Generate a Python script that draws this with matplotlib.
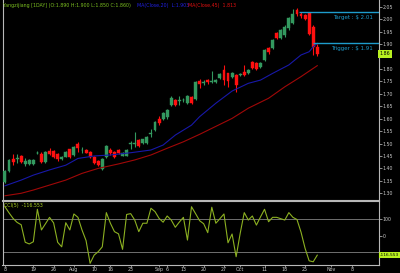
import matplotlib
matplotlib.use("Agg")
import matplotlib.pyplot as plt
from matplotlib import font_manager

# ---------------- data ----------------
opens  = [1.345,1.389,1.438,1.436,1.448,1.419,1.418,1.418,1.460,1.456,1.425,1.469,1.469,1.458,1.437,1.447,1.477,1.454,1.497,1.472,
          1.474,1.467,1.447,1.430,1.399,1.445,1.476,1.466,1.476,1.451,1.451,1.497,1.497,1.514,1.503,1.503,1.538,1.554,1.597,1.597,
          1.605,1.655,1.675,1.671,1.673,1.664,1.686,1.678,1.752,1.743,1.756,1.747,1.746,1.765,1.796,1.782,1.769,1.775,1.776,1.789,
          1.782,1.827,1.823,1.809,1.835,1.886,1.884,1.945,1.926,1.938,1.963,1.985,2.035,2.022,2.017,2.025,1.970,1.890]
highs  = [1.392,1.437,1.458,1.459,1.452,1.440,1.437,1.437,1.468,1.466,1.470,1.484,1.475,1.462,1.449,1.470,1.480,1.490,1.507,1.485,
          1.478,1.470,1.450,1.435,1.440,1.495,1.482,1.470,1.480,1.466,1.478,1.510,1.547,1.520,1.520,1.530,1.557,1.592,1.610,1.628,
          1.640,1.690,1.680,1.690,1.685,1.695,1.690,1.752,1.760,1.755,1.760,1.790,1.760,1.782,1.815,1.785,1.786,1.780,1.785,1.816,
          1.800,1.832,1.828,1.828,1.880,1.890,1.922,1.950,1.960,1.975,2.008,2.040,2.046,2.028,2.022,2.028,1.975,1.900]
lows   = [1.343,1.385,1.415,1.420,1.420,1.410,1.415,1.415,1.456,1.420,1.420,1.452,1.440,1.430,1.434,1.445,1.443,1.450,1.467,1.462,
          1.460,1.440,1.418,1.410,1.395,1.440,1.455,1.440,1.458,1.448,1.448,1.480,1.485,1.486,1.500,1.500,1.525,1.550,1.575,1.594,
          1.600,1.650,1.650,1.655,1.665,1.660,1.660,1.675,1.725,1.735,1.740,1.742,1.742,1.760,1.735,1.728,1.765,1.706,1.770,1.770,
          1.778,1.800,1.796,1.805,1.830,1.860,1.880,1.920,1.920,1.930,1.958,1.980,2.012,2.005,1.995,1.935,1.856,1.850]
closes = [1.389,1.435,1.425,1.441,1.425,1.429,1.435,1.435,1.463,1.424,1.466,1.456,1.446,1.436,1.447,1.467,1.445,1.487,1.483,1.476,
          1.463,1.447,1.423,1.414,1.437,1.490,1.463,1.445,1.463,1.463,1.474,1.502,1.503,1.490,1.517,1.525,1.542,1.588,1.581,1.624,
          1.635,1.682,1.655,1.674,1.676,1.691,1.664,1.749,1.738,1.748,1.746,1.751,1.756,1.778,1.756,1.751,1.782,1.735,1.781,1.775,
          1.795,1.803,1.800,1.823,1.876,1.866,1.918,1.925,1.955,1.970,2.003,2.022,2.020,2.012,2.000,1.940,1.890,1.860]

ma20_idx = [0, 4, 7, 11, 15, 18, 22, 26, 31, 36, 39, 42, 46, 48, 52, 56, 60, 63, 66, 70, 73, 75, 76, 77]
ma20_val = [1.330,1.353,1.373,1.394,1.413,1.440,1.450,1.454,1.463,1.474,1.494,1.534,1.574,1.608,1.662,1.711,1.742,1.755,1.782,1.816,1.856,1.869,1.889,1.903]
ma45_idx = [0, 4, 7, 11, 15, 19, 23, 28, 32, 36, 40, 44, 48, 56, 60, 65, 69, 73, 77]
ma45_val = [1.290,1.300,1.313,1.333,1.353,1.380,1.400,1.418,1.434,1.454,1.481,1.507,1.537,1.601,1.642,1.682,1.728,1.769,1.813]

cci = [171,135,102,78,64,-40,-50,-37,156,33,70,108,75,-40,-67,76,33,128,108,33,
       -30,-165,-116,-96,-67,136,73,23,10,-82,125,130,92,23,73,73,162,142,102,79,
       116,92,49,80,108,-27,171,130,88,70,17,168,73,100,128,-43,9,-126,13,136,
       92,116,62,110,156,82,108,108,100,92,136,108,95,20,-76,-150,-156,-116.553]

date_pos = [0, 7, 12, 17, 22, 26, 31, 38, 40, 44, 49, 54, 58, 64, 69, 74, 80.3, 85.5]
date_lbl = ["8", "19", "26", "Aug", "10", "16", "23", "Sep", "6", "13", "20", "27", "Oct", "11", "18", "25", "Nov", "8"]
price_ticks = [2.05, 2.00, 1.95, 1.90, 1.80, 1.75, 1.70, 1.65, 1.60, 1.55, 1.50, 1.45, 1.40, 1.35, 1.30]
cci_ticks = [100, 0]
target_level, target_text = 2.028, "Target : $ 2.01"
trigger_level, trigger_text = 1.905, "Trigger : $ 1.91"
target_start, trigger_start = 72.4, 76.0
last_close = 1.86
last_cci = -116.553

# ---------------- style ----------------
names = {f.name for f in font_manager.fontManager.ttflist}
fam = ['Liberation Sans Narrow', 'DejaVu Sans'] if 'Liberation Sans Narrow' in names else ['DejaVu Sans']
fs = 4.3 if fam[0] == 'Liberation Sans Narrow' else 3.4
plt.rcParams['font.family'] = fam

W, H = 400, 273
fig = plt.figure(figsize=(4, 2.73), dpi=100, facecolor='black')

def fx(px): return px / W
def fy(py): return 1 - py / H

grid_c = '#b8b8b8'
txt_c = '#c8c8c8'
green = '#33995f'
red = '#ff1010'

xl = (-0.6, 92.1)
ylo, yhi = 1.275, 2.077
ax = fig.add_axes([fx(2.5), fy(199.5), fx(378.5) - fx(2.5), fy(0) - fy(199.5)], facecolor='black')
ax.set_xlim(*xl)
ax.set_ylim(ylo, yhi)

n = len(closes)
xs = list(range(n))
cols = [green if c >= o else red for o, c in zip(opens, closes)]
ax.vlines(xs, lows, highs, colors=cols, linewidth=0.8, zorder=2)
heights = [max(abs(c - o), 0.003) for o, c in zip(opens, closes)]
bottoms = [min(o, c) for o, c in zip(opens, closes)]
ax.bar(xs, heights, bottom=bottoms, width=0.72, color=cols, edgecolor=cols, linewidth=0.3, zorder=3)
ax.plot(ma20_idx, ma20_val, color='#1818a8', linewidth=0.8, zorder=4)
ax.plot(ma45_idx, ma45_val, color='#a00808', linewidth=0.8, zorder=4)

ax.hlines(target_level, target_start, xl[1], color='#1e9ccc', linewidth=1.0, zorder=5)
ax.hlines(trigger_level, trigger_start, xl[1], color='#1e9ccc', linewidth=1.0, zorder=5)
ax.text(90.8, target_level - 0.012, target_text, color='#1e9ccc', fontsize=fs + 0.6, ha='right', va='top')
ax.text(90.8, trigger_level - 0.012, trigger_text, color='#1e9ccc', fontsize=fs + 0.6, ha='right', va='top')

ax.spines['top'].set_visible(False)
for s in ['left', 'right', 'bottom']:
    ax.spines[s].set_color(grid_c)
    ax.spines[s].set_linewidth(0.8)
ax.yaxis.tick_right()
ax.set_yticks(price_ticks)
ax.set_yticklabels([f"{t:.2f}" for t in price_ticks])
ax.tick_params(axis='y', colors=txt_c, labelsize=fs, length=2, width=0.5, pad=1)
ax.set_xticks([])
ax.text(1.003, (last_close - ylo) / (yhi - ylo), f"{last_close:.2f}", transform=ax.transAxes,
        fontsize=fs, color='black', ha='left', va='center', zorder=10,
        bbox=dict(boxstyle='square,pad=0.3', fc='#b8f020', ec='none'), clip_on=False)

# ---------------- CCI panel ----------------
cylo, cyhi = -172, 205
cax = fig.add_axes([fx(2.5), fy(264.5), fx(378.5) - fx(2.5), fy(201) - fy(264.5)], facecolor='black')
cax.set_xlim(*xl)
cax.set_ylim(cylo, cyhi)
cax.axhline(100, color='#707070', linewidth=0.7)
cax.axhline(-100, color='#707070', linewidth=0.7)
cax.plot(xs, cci, color='#8cb021', linewidth=0.8)
for s in cax.spines.values():
    s.set_color(grid_c)
    s.set_linewidth(0.8)
cax.yaxis.tick_right()
cax.set_yticks(cci_ticks)
cax.set_yticklabels([str(t) for t in cci_ticks])
cax.tick_params(axis='y', colors=txt_c, labelsize=fs, length=2, width=0.5, pad=1)
cax.set_xticks(date_pos)
cax.set_xticklabels(date_lbl)
cax.tick_params(axis='x', colors=txt_c, labelsize=fs, length=1.5, width=0.5, pad=0.3)
cax.text(1.003, (last_cci - cylo) / (cyhi - cylo), f"{last_cci:.3f}", transform=cax.transAxes,
         fontsize=fs - 0.3, color='black', ha='left', va='center',
         bbox=dict(boxstyle='square,pad=0.2', fc='#b8f020', ec='none'), clip_on=False)
cax.text(0.003, 0.97, f"CCI(5)  {last_cci:.3f}", transform=cax.transAxes, color='#a8d020',
         fontsize=fs, ha='left', va='top')

# ---------------- header ----------------
fig.text(fx(3), fy(5), "Yangzijiang [1DAY] (O:1.890 H:1.900 L:1.850 C:1.860)", color='#7cc020',
         fontsize=fs, ha='left', va='center')
fig.text(fx(137), fy(5), "MA(Close,20)  L:1.903", color='#2020e0', fontsize=fs, ha='left', va='center')
fig.text(fx(188), fy(5), "MA(Close,45)  1.813", color='#e01010', fontsize=fs, ha='left', va='center')

fig.savefig("out.png", dpi=100, facecolor='black')
